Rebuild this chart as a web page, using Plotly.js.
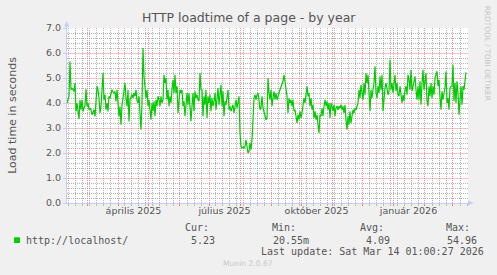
<!DOCTYPE html>
<html>
<head>
<meta charset="utf-8">
<script src="https://cdn.plot.ly/plotly-3.0.1.min.js"></script>
<style>
  html, body { margin: 0; padding: 0; background: #F0F0F0; }
  #chart { width: 497px; height: 275px; }
</style>
</head>
<body>
<div id="chart"></div>
<script>
// ---- DATA (daily load times in seconds) ----
const seriesStart = '2025-02-08 12:00';
const loadFebApr = [4.0,4.2,4.27,5.66,4.53,4.6,4.55,4.46,4.8,3.66,3.99,3.53,3.36,4.13,3.73,4.13,3.66,3.8,3.9,4.56,3.86,4.0,3.73,3.8,3.73,3.53,3.6,3.73,3.46,4.2,4.67,4.53,4.2,3.6,3.86,4.5,5.2,4.13,4.33,3.73,4.0,3.66,4.27,4.2,4.33,4.53,4.45,4.4,4.46,4.06,4.53,3.93,3.46,3.86,3.13,3.9,4.27,4.67,4.8,4.2,3.86,4.53,3.26,4.13];
const loadAprJun = [4.2,4.33,4.2,4.4,4.27,4.53,4.1,4.0,4.27,3.73,2.93,4.0,6.2,5.07,4.4,4.2,4.53,3.87,4.13,3.73,3.33,4.0,3.67,4.07,3.47,4.13,3.87,4.27,4.13,3.87,4.27,4.0,4.13,5.13,4.8,5.0,4.13,4.53,3.87,4.27,4.0,4.53,4.93,4.4,5.13,4.4,4.67,3.6,4.13,4.53,4.4,4.53,3.87,4.07,3.47,4.13,4.4,3.93,4.4,3.87,3.27,3.87,4.4,3.67,4.47,4.2,4.33,4.13];
const loadJunAug = [4.07,5.2,4.53,4.53,3.47,4.27,3.93,4.53,3.4,4.27,4.0,4.33,3.67,4.2,3.87,4.07,4.4,3.73,4.13,4.6,3.93,4.4,4.73,3.87,4.47,3.47,4.07,3.93,4.2,4.53,3.73,3.87,3.67,3.8,3.93,3.6,3.87,4.13,3.8,4.07,4.27,2.8,2.27,2.2,2.24,2.2,2.27,2.53,2.13,2.0,2.07,2.4,2.13,2.53,3.33,4.2,4.33,4.13,4.33,4.4,4.13,3.73,3.8,4.27,3.8,3.67,3.47,3.33];
const loadAugOct = [3.4,5.0,4.4,4.13,4.53,3.87,4.2,4.47,4.13,4.4,4.13,4.33,4.4,4.53,4.67,4.8,4.87,5.13,4.87,4.6,4.27,3.6,4.2,4.0,4.13,3.87,4.13,3.67,3.73,3.47,3.2,3.53,3.33,3.67,3.4,3.6,3.87,4.2,4.0,4.4,4.67,4.27,4.4,3.87,4.2,3.73,3.93,3.4,3.67,3.33,3.53,3.13,2.8,3.53,3.47,3.8,3.47,3.87,4.13,3.87,4.07,3.73,4.0,3.4,4.0,3.87,3.67,3.93];
const loadOctJan = [3.47,3.8,3.87,3.73,3.87,3.8,3.93,3.73,3.87,3.6,3.93,3.33,2.93,3.47,3.13,3.67,3.2,3.47,3.73,3.6,3.8,3.73,3.87,4.0,4.53,4.2,4.73,4.4,4.13,4.8,4.33,5.2,4.8,5.13,4.27,3.67,4.53,4.2,4.53,4.8,5.47,4.4,4.2,4.67,4.4,5.07,4.53,5.13,3.67,4.4,4.6,4.8,4.53,4.33,4.47,5.73,4.53,4.8,4.4,4.67,5.13,4.47,4.8,4.33,4.27,4.67,4.27,4.0];
const loadJanMar = [4.33,4.07,4.53,4.67,4.33,5.13,4.93,4.53,5.33,4.47,4.67,4.87,5.07,4.53,4.13,4.67,4.13,4.87,3.93,4.8,5.33,4.53,5.0,5.2,4.07,3.87,4.67,4.27,4.8,4.2,4.67,4.33,5.0,5.2,5.27,4.67,4.93,4.27,3.73,4.47,4.13,4.4,4.6,5.27,4.0,4.2,3.73,4.6,4.67,4.67,5.53,4.07,4.8,4.0,4.87,4.4,3.53,4.13,4.67,3.93,4.67,4.53,4.8,5.23];

const monthStarts = ['2025-03-01','2025-04-01','2025-05-01','2025-06-01','2025-07-01','2025-08-01','2025-09-01','2025-10-01','2025-11-01','2025-12-01','2026-01-01','2026-02-01','2026-03-01'];
const labelDates = ['2025-04-16','2025-07-16','2025-10-16','2026-01-16'];
const labelTexts = ['április 2025','július 2025','október 2025','január 2026'];
const legendName = 'http://localhost/';
const statNames = ['Cur:','Min:','Avg:','Max:'];
const statValues = ['5.23','20.55m','4.09','54.96'];
const lastUpdate = 'Last update: Sat Mar 14 01:00:27 2026';

// ---- build ----
const DAY = 86400000;
const load = [].concat(loadFebApr, loadAprJun, loadJunAug, loadAugOct, loadOctJan, loadJanMar);
const t0 = Date.parse(seriesStart.replace(' ', 'T') + ':00Z');
const fmt = ms => new Date(ms).toISOString().slice(0, 16).replace('T', ' ');
const dates = load.map((_, i) => fmt(t0 + i * DAY));

// minor grid positions (weekly / every 0.2), skipping the major lines
const monthMs = monthStarts.map(d => Date.parse(d + 'T00:00:00Z'));
const weekTicks = [];
for (let w = Date.parse('2025-02-10T00:00:00Z'); w < Date.parse('2026-03-17T00:00:00Z'); w += 7 * DAY) {
  if (!monthMs.some(m => Math.abs(m - w) < 1.5 * DAY)) weekTicks.push(fmt(w));
}
const yMinor = [];
for (let k = 1; k < 35; k++) if (k % 5) yMinor.push(+(k * 0.2).toFixed(1));

// pixel helpers (layout only)
const L = 67, R = 468, T = 28, B = 203;
const px = x => (x - L) / (R - L);
const py = y => (B - y) / (B - T);

const mono = 'DejaVu Sans Mono, monospace';
const sans = 'DejaVu Sans, sans-serif';
const txt = '#555555';
const axisCol = '#C5CCF5';
const majorGridX = 'rgba(225,90,90,0.65)';
const majorGridY = 'rgba(232,120,120,0.45)';
const minorGrid = 'rgba(120,120,120,0.55)';

function ann(text, x, y, opts) {
  return Object.assign({
    text: text, xref: 'paper', yref: 'paper', x: px(x), y: py(y),
    xanchor: 'left', yanchor: 'middle', showarrow: false,
    borderpad: 0, borderwidth: 0,
    font: { family: mono, size: 10, color: txt }
  }, opts || {});
}

const statX = [[185.2, 191.2], [272.2, 272.8], [359.5, 365.5], [446.2, 446.8]];
const annotations = [
  ann(legendName, 26.2, 240),
  ann(lastUpdate, 261.2, 251.7),
  ann('Munin 2.0.67', 222.5, 263.5, { font: { family: sans, size: 7.6, color: '#C8C8C8' } }),
  ann('RRDTOOL / TOBI OETIKER', 488.3, 53, { xanchor: 'center', textangle: 90, font: { family: sans, size: 7.4, color: '#C4C4C4' } })
];
statNames.forEach((n, i) => {
  annotations.push(ann(n, statX[i][0], 227.7));
  annotations.push(ann(statValues[i], statX[i][1], 240));
});

const shapes = [
  { type: 'rect', xref: 'paper', yref: 'paper', x0: px(14), x1: px(20), y0: py(243), y1: py(237.3),
    fillcolor: '#00CC00', line: { width: 0 } },
  { type: 'path', xref: 'paper', yref: 'paper',
    path: `M ${px(64.2)} ${py(26.5)} L ${px(66.7)} ${py(21)} L ${px(69.2)} ${py(26.5)} Z`,
    fillcolor: axisCol, line: { width: 0 } },
  { type: 'line', xref: 'paper', yref: 'paper', x0: px(66.7), x1: px(66.7), y0: 1, y1: py(23),
    line: { color: axisCol, width: 1 } },
  { type: 'path', xref: 'paper', yref: 'paper',
    path: `M ${px(468)} ${py(200.5)} L ${px(473.5)} ${py(203)} L ${px(468)} ${py(205.5)} Z`,
    fillcolor: axisCol, line: { width: 0 } }
];

const traces = [
  { x: dates, y: load, type: 'scatter', mode: 'lines', line: { color: '#00CC00', width: 1.2 },
    hoverinfo: 'x+y', showlegend: false },
  { x: [labelDates[0]], y: [null], xaxis: 'x2', type: 'scatter', mode: 'lines', showlegend: false, hoverinfo: 'skip' }
];

const layout = {
  width: 497, height: 275,
  margin: { l: L, r: 497 - R, t: T, b: 275 - B, pad: 0 },
  paper_bgcolor: '#F0F0F0', plot_bgcolor: '#FFFFFF',
  showlegend: false,
  title: { text: 'HTTP loadtime of a page - by year', font: { family: sans, size: 12.5, color: txt },
    xref: 'container', yref: 'container', x: 248.8 / 497, xanchor: 'center', y: 1 - 18 / 275, yanchor: 'middle' },
  xaxis: {
    type: 'date', range: ['2025-02-08 12:00', '2026-03-16 12:00'], fixedrange: true,
    tickmode: 'array', tickvals: monthStarts, ticktext: monthStarts.map(() => ''),
    showgrid: true, gridcolor: majorGridX, griddash: '1px,1px', gridwidth: 1,
    ticks: 'outside', ticklen: 2, tickcolor: 'rgba(230,100,100,0.8)', tickwidth: 1,
    showline: true, linecolor: axisCol, linewidth: 1, zeroline: false,
    minor: { tickmode: 'array', tickvals: weekTicks, showgrid: true,
      gridcolor: minorGrid, griddash: '1px,1px', gridwidth: 1, ticks: 'outside', ticklen: 2, tickcolor: '#BBBBBB' }
  },
  xaxis2: {
    type: 'date', overlaying: 'x', matches: 'x', anchor: 'y', side: 'bottom',
    tickmode: 'array', tickvals: labelDates, ticktext: labelTexts,
    showgrid: false, ticks: '', showline: false, zeroline: false,
    tickfont: { family: sans, size: 9.5, color: txt }
  },
  yaxis: {
    range: [0, 7], fixedrange: true, dtick: 1, tick0: 0, tickformat: '.1f',
    showgrid: true, gridcolor: majorGridY, griddash: 'solid', gridwidth: 1,
    ticks: 'outside', ticklen: 3, tickcolor: axisCol,
    showline: true, linecolor: axisCol, linewidth: 1, zeroline: false,
    tickfont: { family: sans, size: 9.5, color: txt },
    minor: { tickmode: 'array', tickvals: yMinor, showgrid: true, gridcolor: minorGrid, griddash: '1px,1px', gridwidth: 1 },
    title: { text: 'Load time in seconds', font: { family: sans, size: 11, color: txt }, standoff: 27 }
  },
  annotations: annotations,
  shapes: shapes
};

Plotly.newPlot('chart', traces, layout, { staticPlot: true, displayModeBar: false });
</script>
</body>
</html>
